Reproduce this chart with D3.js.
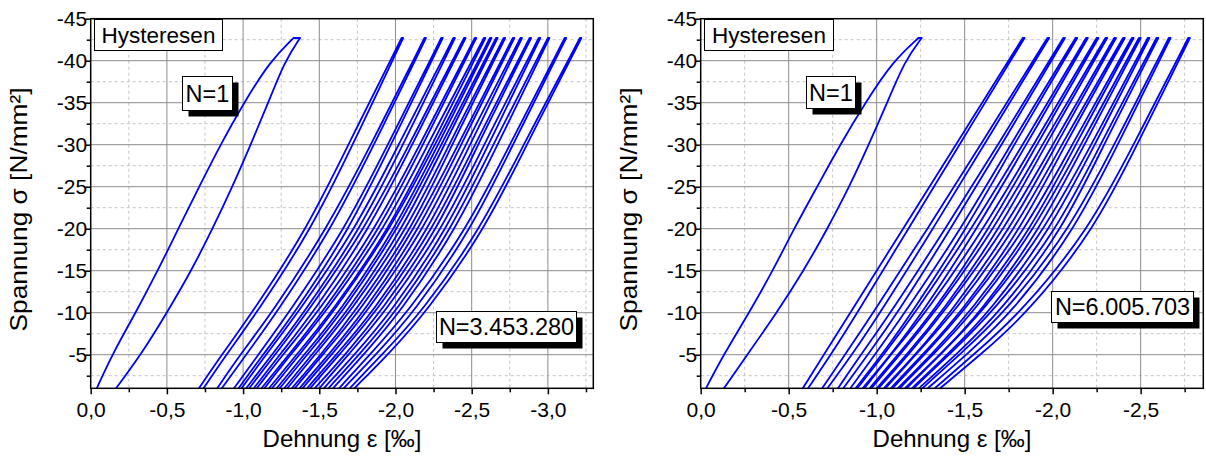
<!DOCTYPE html>
<html><head><meta charset="utf-8">
<script src="https://cdn.jsdelivr.net/npm/d3@7"></script>
<style>
body{margin:0;background:#fff}
svg{display:block}
text{font-family:"Liberation Sans",Arial,sans-serif;fill:#000}
</style>
</head><body>
<svg id="c" width="1206" height="457"></svg>
<script>
// ---------- data ----------
const sigmaFirst = [-1, -5, -10, -15, -20, -25, -30, -35, -40, -42.7];
const sigmaLevels = [-1, -5, -10, -20, -30, -42.7];

const yTicks = [-45, -40, -35, -30, -25, -20, -15, -10, -5];
const yTickLabels = ["-45", "-40", "-35", "-30", "-25", "-20", "-15", "-10", "-5"];

const leftXTicks = [0, -0.5, -1, -1.5, -2, -2.5, -3];
const leftXTickLabels = ["0,0", "-0,5", "-1,0", "-1,5", "-2,0", "-2,5", "-3,0"];
const rightXTicks = [0, -0.5, -1, -1.5, -2, -2.5];
const rightXTickLabels = ["0,0", "-0,5", "-1,0", "-1,5", "-2,0", "-2,5"];

const leftFirstLoad   = [-0.04, -0.14, -0.295, -0.44, -0.575, -0.712, -0.852, -1.005, -1.18, -1.33];
const leftFirstUnload = [-0.166, -0.33, -0.50, -0.66, -0.80, -0.93, -1.05, -1.165, -1.275, -1.374];

const leftLoad = [
  [-0.71, -0.86, -1.06, -1.42, -1.69, -2.04],
  [-0.83, -0.98, -1.19, -1.55, -1.84, -2.19],
  [-0.94, -1.10, -1.30, -1.67, -1.95, -2.30],
  [-0.99, -1.15, -1.36, -1.74, -2.02, -2.38],
  [-1.04, -1.21, -1.42, -1.80, -2.09, -2.45],
  [-1.09, -1.26, -1.49, -1.87, -2.16, -2.52],
  [-1.14, -1.31, -1.54, -1.93, -2.21, -2.58],
  [-1.19, -1.37, -1.59, -1.97, -2.26, -2.62],
  [-1.24, -1.42, -1.65, -2.02, -2.30, -2.66],
  [-1.29, -1.47, -1.70, -2.08, -2.35, -2.71],
  [-1.34, -1.52, -1.76, -2.13, -2.41, -2.77],
  [-1.39, -1.58, -1.81, -2.19, -2.46, -2.82],
  [-1.44, -1.63, -1.87, -2.25, -2.52, -2.88],
  [-1.50, -1.69, -1.93, -2.31, -2.58, -2.94],
  [-1.56, -1.76, -2.00, -2.37, -2.64, -3.00],
  [-1.63, -1.83, -2.08, -2.47, -2.75, -3.11],
  [-1.70, -1.91, -2.17, -2.56, -2.84, -3.21]
];
const leftUnload = [
  [-0.74, -0.89, -1.09, -1.45, -1.72, -2.05],
  [-0.86, -1.02, -1.22, -1.58, -1.86, -2.20],
  [-0.97, -1.13, -1.34, -1.70, -1.97, -2.31],
  [-1.02, -1.19, -1.40, -1.77, -2.05, -2.39],
  [-1.07, -1.24, -1.46, -1.83, -2.11, -2.46],
  [-1.12, -1.30, -1.52, -1.90, -2.18, -2.53],
  [-1.17, -1.35, -1.58, -1.96, -2.24, -2.59],
  [-1.22, -1.40, -1.63, -2.00, -2.28, -2.63],
  [-1.27, -1.45, -1.68, -2.05, -2.32, -2.67],
  [-1.32, -1.51, -1.73, -2.11, -2.37, -2.72],
  [-1.37, -1.56, -1.79, -2.16, -2.43, -2.78],
  [-1.42, -1.61, -1.85, -2.22, -2.49, -2.83],
  [-1.47, -1.67, -1.90, -2.28, -2.54, -2.89],
  [-1.53, -1.73, -1.97, -2.34, -2.61, -2.95],
  [-1.59, -1.79, -2.03, -2.40, -2.67, -3.01],
  [-1.66, -1.87, -2.12, -2.50, -2.77, -3.12],
  [-1.73, -1.95, -2.20, -2.59, -2.86, -3.22]
];

const rightFirstLoad   = [-0.03, -0.13, -0.275, -0.41, -0.53, -0.662, -0.792, -0.935, -1.095, -1.237];
const rightFirstUnload = [-0.132, -0.265, -0.432, -0.585, -0.72, -0.845, -0.955, -1.06, -1.16, -1.256];

const rightLoad = [
  [-0.58, -0.70, -0.85, -1.15, -1.45, -1.83],
  [-0.69, -0.82, -0.98, -1.29, -1.59, -1.97],
  [-0.78, -0.91, -1.08, -1.39, -1.69, -2.06],
  [-0.85, -0.99, -1.16, -1.48, -1.76, -2.13],
  [-0.89, -1.04, -1.22, -1.54, -1.83, -2.19],
  [-0.93, -1.08, -1.28, -1.61, -1.89, -2.25],
  [-0.97, -1.13, -1.33, -1.67, -1.94, -2.30],
  [-1.01, -1.18, -1.38, -1.73, -2.00, -2.35],
  [-1.05, -1.22, -1.44, -1.79, -2.05, -2.40],
  [-1.09, -1.27, -1.49, -1.85, -2.11, -2.45],
  [-1.13, -1.32, -1.55, -1.90, -2.16, -2.49],
  [-1.17, -1.36, -1.60, -1.96, -2.22, -2.54],
  [-1.21, -1.41, -1.66, -2.03, -2.27, -2.59],
  [-1.26, -1.47, -1.73, -2.10, -2.35, -2.66],
  [-1.33, -1.55, -1.82, -2.21, -2.46, -2.77]
];
const rightUnload = [
  [-0.61, -0.74, -0.89, -1.18, -1.47, -1.84],
  [-0.72, -0.86, -1.02, -1.32, -1.61, -1.98],
  [-0.81, -0.95, -1.12, -1.42, -1.71, -2.07],
  [-0.88, -1.03, -1.20, -1.51, -1.78, -2.14],
  [-0.92, -1.08, -1.26, -1.57, -1.85, -2.20],
  [-0.96, -1.12, -1.32, -1.64, -1.91, -2.26],
  [-1.00, -1.17, -1.37, -1.70, -1.96, -2.31],
  [-1.04, -1.22, -1.42, -1.76, -2.02, -2.36],
  [-1.08, -1.26, -1.48, -1.82, -2.07, -2.41],
  [-1.12, -1.31, -1.53, -1.88, -2.13, -2.46],
  [-1.16, -1.36, -1.59, -1.93, -2.18, -2.50],
  [-1.20, -1.40, -1.64, -1.99, -2.24, -2.55],
  [-1.24, -1.45, -1.70, -2.06, -2.29, -2.60],
  [-1.29, -1.51, -1.77, -2.13, -2.37, -2.67],
  [-1.36, -1.59, -1.86, -2.24, -2.48, -2.78]
];

const labelTitle = "Hysteresen";
const labelFirst = "N=1";
const labelLeftLast = "N=3.453.280";
const labelRightLast = "N=6.005.703";
const xTitle = "Dehnung \u03b5 [\u2030]";
const yTitle = "Spannung \u03c3 [N/mm\u00b2]";

// ---------- drawing ----------
const svg = d3.select("#c");
const TOP = 18.7, BOTTOM = 388.3;
const y = d3.scaleLinear().domain([-1, -45]).range([BOTTOM, TOP]);

function panel(p) {
  const x = d3.scaleLinear().domain([0, p.xEnd]).range([p.x0, p.x1]);
  const g = svg.append("g");
  const clipId = "clip" + p.id;
  svg.append("clipPath").attr("id", clipId)
    .append("rect").attr("x", p.x0).attr("y", TOP - 2)
    .attr("width", p.x1 - p.x0).attr("height", BOTTOM - TOP + 2);

  // grid
  const xMinor = d3.range(-0.25, p.xEnd, -0.5);
  const yMinor = d3.range(-2.5, -45, -5);
  const grid = g.append("g");
  grid.selectAll(".xm").data(xMinor).join("line")
    .attr("x1", d => x(d)).attr("x2", d => x(d)).attr("y1", TOP).attr("y2", BOTTOM)
    .attr("stroke", "#c4c4c4").attr("stroke-width", 1).attr("stroke-dasharray", "3,3");
  grid.selectAll(".ym").data(yMinor).join("line")
    .attr("y1", d => y(d)).attr("y2", d => y(d)).attr("x1", p.x0).attr("x2", p.x1)
    .attr("stroke", "#c4c4c4").attr("stroke-width", 1).attr("stroke-dasharray", "3,3");
  grid.selectAll(".xM").data(p.xTicks.filter(d => d !== 0)).join("line")
    .attr("x1", d => x(d)).attr("x2", d => x(d)).attr("y1", TOP).attr("y2", BOTTOM)
    .attr("stroke", "#8c8c8c").attr("stroke-width", 1);
  grid.selectAll(".yM").data(yTicks.filter(d => d !== -45)).join("line")
    .attr("y1", d => y(d)).attr("y2", d => y(d)).attr("x1", p.x0).attr("x2", p.x1)
    .attr("stroke", "#8c8c8c").attr("stroke-width", 1);

  // loops
  const line = d3.line().x(d => x(d[0])).y(d => y(d[1])).curve(d3.curveBasis);
  function loopPath(load, unload, sig) {
    const up = sig.map((s, i) => [load[i], s]);
    const down = sig.map((s, i) => [unload[i], s]).reverse();
    return line(up) + line(down).replace(/^M/, "L");
  }
  const loops = g.append("g").attr("clip-path", `url(#${clipId})`);
  const all = [[p.firstLoad, p.firstUnload, sigmaFirst]]
    .concat(p.load.map((l, i) => [l, p.unload[i], sigmaLevels]));
  loops.selectAll("path").data(all).join("path")
    .attr("d", d => loopPath(d[0], d[1], d[2]))
    .attr("fill", "none").attr("stroke", "#0000ff").attr("stroke-width", 1.8)
    .attr("stroke-linejoin", "round");

  // frame
  g.append("rect").attr("x", p.x0).attr("y", TOP)
    .attr("width", p.x1 - p.x0).attr("height", BOTTOM - TOP)
    .attr("fill", "none").attr("stroke", "#000").attr("stroke-width", 1.5);

  // axes
  const xAx = g.append("g").attr("transform", `translate(0,${BOTTOM})`)
    .call(d3.axisBottom(x).tickValues(p.xTicks).tickFormat((d, i) => p.xLabels[i])
      .tickSize(6).tickPadding(8));
  g.append("g").attr("transform", `translate(0,${BOTTOM})`)
    .call(d3.axisBottom(x).tickValues(xMinor).tickFormat("").tickSize(4))
    .call(a => a.select(".domain").remove());
  const yAx = g.append("g").attr("transform", `translate(${p.x0},0)`)
    .call(d3.axisLeft(y).tickValues(yTicks).tickFormat((d, i) => yTickLabels[i])
      .tickSize(5).tickPadding(-1.5));
  g.append("g").attr("transform", `translate(${p.x0},0)`)
    .call(d3.axisLeft(y).tickValues(yMinor).tickFormat("").tickSize(4))
    .call(a => a.select(".domain").remove());
  [xAx, yAx].forEach(a => {
    a.select(".domain").remove();
    a.selectAll("text").attr("font-size", 21).attr("font-family", '"Liberation Sans",Arial,sans-serif').attr("fill", "#000");
  });
  g.selectAll(".tick line").attr("stroke", "#000").attr("stroke-width", 1.5);

  // titles
  g.append("text").attr("x", (p.x0 + p.x1) / 2).attr("y", 447)
    .attr("text-anchor", "middle").attr("font-size", 24).text(xTitle);
  g.append("text").attr("transform", `translate(${p.yTitleX},${(TOP + BOTTOM) / 2 + 6}) rotate(-90)`)
    .attr("text-anchor", "middle").attr("font-size", 24)
    .attr("textLength", 244).attr("lengthAdjust", "spacingAndGlyphs").text(yTitle);

  // labels
  function box(b, txt, fs, shadow) {
    if (shadow) g.append("rect").attr("x", b[0] + 6).attr("y", b[1] + 6)
      .attr("width", b[2]).attr("height", b[3]).attr("fill", "#000");
    g.append("rect").attr("x", b[0]).attr("y", b[1]).attr("width", b[2]).attr("height", b[3])
      .attr("fill", "#fff").attr("stroke", "#000").attr("stroke-width", 1);
    g.append("text").attr("x", b[0] + b[2] / 2).attr("y", b[1] + b[3] / 2 + fs * 0.36)
      .attr("text-anchor", "middle").attr("font-size", fs).text(txt);
  }
  box(p.titleBox, labelTitle, 22.5, false);
  box(p.firstBox, labelFirst, 23.5, true);
  box(p.lastBox, p.lastLabel, 23.5, true);
}

panel({
  id: "L", x0: 90.7, x1: 593.3, xEnd: -3.298,
  xTicks: leftXTicks, xLabels: leftXTickLabels,
  firstLoad: leftFirstLoad, firstUnload: leftFirstUnload,
  load: leftLoad, unload: leftUnload,
  yTitleX: 27,
  titleBox: [94.5, 19.5, 128, 31],
  firstBox: [182.5, 76.5, 50, 34],
  lastBox: [436.5, 311.5, 140, 31],
  lastLabel: labelLeftLast
});
panel({
  id: "R", x0: 700.7, x1: 1203.3, xEnd: -2.856,
  xTicks: rightXTicks, xLabels: rightXTickLabels,
  firstLoad: rightFirstLoad, firstUnload: rightFirstUnload,
  load: rightLoad, unload: rightUnload,
  yTitleX: 637,
  titleBox: [704.5, 19.5, 129, 31],
  firstBox: [806.5, 76.5, 49, 32],
  lastBox: [1051.5, 291.5, 142, 31],
  lastLabel: labelRightLast
});
</script>
</body></html>
